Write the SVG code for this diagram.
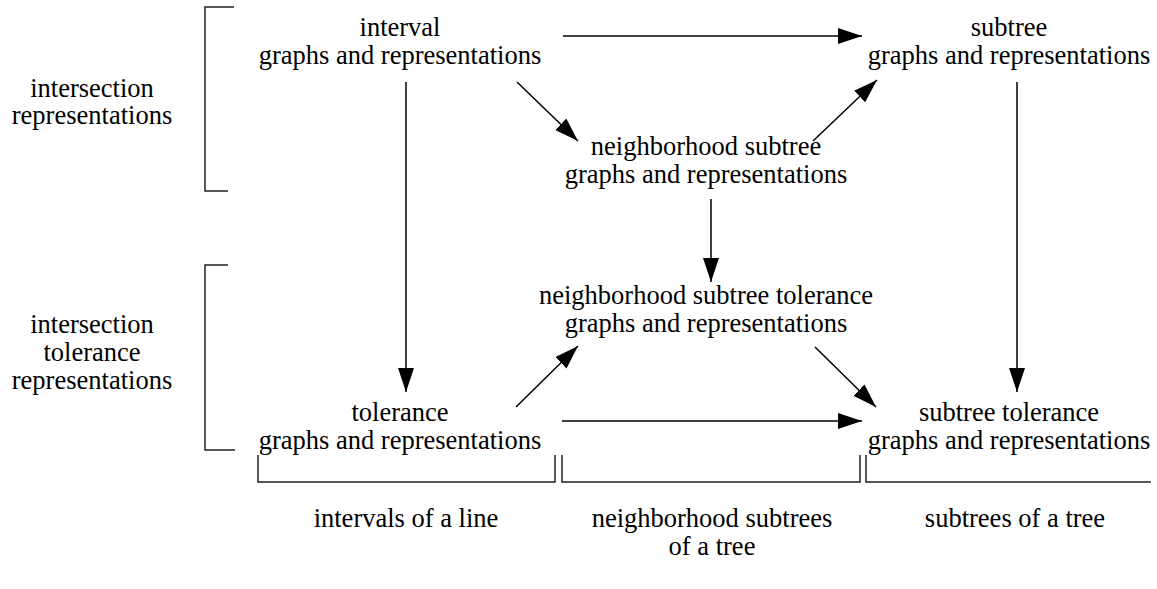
<svg xmlns="http://www.w3.org/2000/svg" width="1157" height="589" viewBox="0 0 1157 589">
<style>
.ln{stroke:#000;stroke-width:1.5;fill:none}
.br{stroke:#222;stroke-width:1.5;fill:none}
</style>
<defs>
<marker id="ah" markerUnits="userSpaceOnUse" markerWidth="26" markerHeight="18" refX="24" refY="8" orient="auto">
<path d="M0,0 L24,8 L0,16 z" fill="#000"/>
</marker>
</defs>
<rect width="1157" height="589" fill="#fff"/>
<g font-family="Liberation Serif" font-size="26.5" text-anchor="middle" fill="#000">
<g id="n-interval"><text x="400" y="36">interval</text><text x="400" y="64">graphs and representations</text></g>
<g id="n-subtree"><text x="1009" y="36">subtree</text><text x="1009" y="64">graphs and representations</text></g>
<g id="n-nbhd"><text x="706" y="155">neighborhood subtree</text><text x="706" y="183">graphs and representations</text></g>
<g id="n-nbhdtol"><text x="706" y="304">neighborhood subtree tolerance</text><text x="706" y="332">graphs and representations</text></g>
<g id="n-tolerance"><text x="400" y="421">tolerance</text><text x="400" y="449">graphs and representations</text></g>
<g id="n-subtreetol"><text x="1009" y="421">subtree tolerance</text><text x="1009" y="449">graphs and representations</text></g>
<g id="labels">
<text x="92" y="97">intersection</text>
<text x="92" y="124">representations</text>
<text x="92" y="333">intersection</text>
<text x="92" y="361">tolerance</text>
<text x="92" y="389">representations</text>
<text x="406" y="527">intervals of a line</text>
<text x="712" y="527">neighborhood subtrees</text>
<text x="712" y="555">of a tree</text>
<text x="1015" y="527">subtrees of a tree</text>
</g>
</g>
<g id="connectors">
<line class="ln" x1="563" y1="36" x2="862" y2="36" marker-end="url(#ah)"/>
<line class="ln" x1="406" y1="82" x2="406" y2="392" marker-end="url(#ah)"/>
<line class="ln" x1="1017" y1="82" x2="1017" y2="392" marker-end="url(#ah)"/>
<line class="ln" x1="517" y1="82" x2="578" y2="141" marker-end="url(#ah)"/>
<line class="ln" x1="813" y1="141" x2="877" y2="80" marker-end="url(#ah)"/>
<line class="ln" x1="711" y1="199" x2="711" y2="282" marker-end="url(#ah)"/>
<line class="ln" x1="516" y1="407" x2="578" y2="346" marker-end="url(#ah)"/>
<line class="ln" x1="815" y1="347" x2="876" y2="407" marker-end="url(#ah)"/>
<line class="ln" x1="562" y1="421" x2="862" y2="421" marker-end="url(#ah)"/>
</g>
<g id="brackets">
<path class="br" d="M234,7 H205 V191 H228"/>
<path class="br" d="M228,265 H205 V450 H235"/>
<path class="br" d="M258,455 V482 H555 V455"/>
<path class="br" d="M562,455 V482 H860 V455"/>
<path class="br" d="M866,455 V482 H1151"/>
</g>
</svg>
